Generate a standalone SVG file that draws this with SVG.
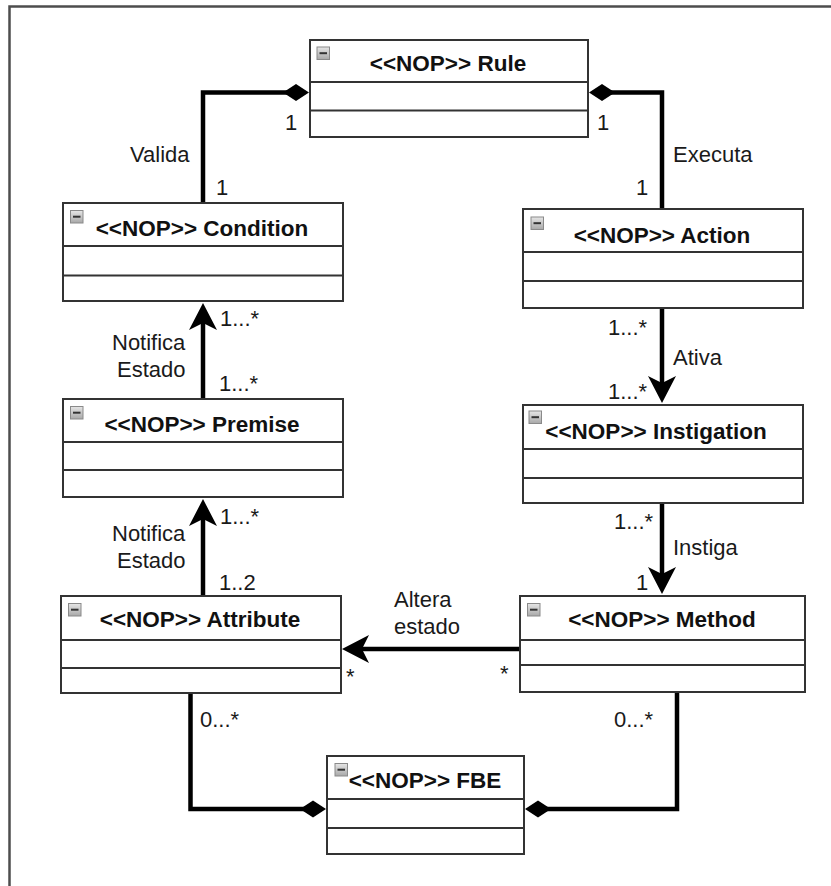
<svg xmlns="http://www.w3.org/2000/svg" width="831" height="886" viewBox="0 0 831 886">
  <style>
    .box { fill: #ffffff; stroke: #333333; stroke-width: 2; }
    .div { stroke: #333333; stroke-width: 2; }
    .title { font-family: "Liberation Sans", Arial, sans-serif; font-weight: bold; font-size: 22.5px; fill: #111111; text-anchor: middle; }
    .lbl { font-family: "Liberation Sans", Arial, sans-serif; font-size: 22px; fill: #1a1a1a; }
    .edge { fill: none; stroke: #000000; stroke-width: 4.5; }
    .comp { marker-end: url(#diamond); }
    .nav { marker-end: url(#arrow); }
    .icon { fill: url(#iconGrad); stroke: #8a8a8a; stroke-width: 1; }
    .dash { stroke: #333333; stroke-width: 2; }
  </style>
  <defs>
    <linearGradient id="iconGrad" x1="0" y1="0" x2="0" y2="1">
      <stop offset="0" stop-color="#e6e6e6"/>
      <stop offset="1" stop-color="#a8a8a8"/>
    </linearGradient>
    <!-- filled diamond for composition ends; tip lies 6px beyond the path end -->
    <marker id="diamond" markerUnits="userSpaceOnUse" viewBox="-28 -10 30 20" markerWidth="30" markerHeight="20" refX="-6" refY="0" orient="auto">
      <path d="M0,0 L-13,-8.5 L-26,0 L-13,8.5 Z" fill="#000000"/>
    </marker>
    <!-- notched filled arrowhead; path end sits at the notch -->
    <marker id="arrow" markerUnits="userSpaceOnUse" viewBox="-30 -16 32 32" markerWidth="32" markerHeight="32" refX="-20" refY="0" orient="auto">
      <path d="M0,0 L-27,-14 L-20,0 L-27,14 Z" fill="#000000"/>
    </marker>
  </defs>

  <rect width="831" height="886" fill="#ffffff"/>
  <!-- outer frame -->
  <path d="M9.5,886 L9.5,6.5 L831,6.5" fill="none" stroke="#4d4d4d" stroke-width="2.5"/>

  <g id="connectors">
    <!-- Rule composed of Condition -->
    <path class="edge comp" d="M203,203 L203,92.5 L303,92.5"/>
    <!-- Rule composed of Action -->
    <path class="edge comp" d="M662,209 L662,92.5 L595,92.5"/>
    <!-- Premise notifies Condition -->
    <path class="edge nav" d="M203,399 L203,323"/>
    <!-- Action activates Instigation -->
    <path class="edge nav" d="M662,308 L662,383"/>
    <!-- Attribute notifies Premise -->
    <path class="edge nav" d="M203,596 L203,519"/>
    <!-- Instigation instigates Method -->
    <path class="edge nav" d="M662,503 L662,574"/>
    <!-- Method changes Attribute -->
    <path class="edge nav" d="M520,649 L362,649"/>
    <!-- FBE composed of Attribute -->
    <path class="edge comp" d="M190.5,693 L190.5,809 L320,809"/>
    <!-- FBE composed of Method -->
    <path class="edge comp" d="M677,692 L677,809 L531,809"/>

    <text class="lbl" x="285" y="130">1</text>
    <text class="lbl" x="216" y="195">1</text>
    <text class="lbl" x="130" y="162">Valida</text>

    <text class="lbl" x="597" y="130">1</text>
    <text class="lbl" x="673" y="162">Executa</text>
    <text class="lbl" x="636" y="195">1</text>

    <text class="lbl" x="220" y="326">1...*</text>
    <text class="lbl" x="112" y="350">Notifica</text>
    <text class="lbl" x="117" y="377">Estado</text>
    <text class="lbl" x="219" y="391">1...*</text>

    <text class="lbl" x="608" y="335">1...*</text>
    <text class="lbl" x="673" y="365">Ativa</text>
    <text class="lbl" x="608" y="399">1...*</text>

    <text class="lbl" x="220" y="524">1...*</text>
    <text class="lbl" x="112" y="541">Notifica</text>
    <text class="lbl" x="117" y="568">Estado</text>
    <text class="lbl" x="219" y="590">1..2</text>

    <text class="lbl" x="614" y="529">1...*</text>
    <text class="lbl" x="673" y="555">Instiga</text>
    <text class="lbl" x="636" y="590">1</text>

    <text class="lbl" x="394" y="607">Altera</text>
    <text class="lbl" x="394" y="634">estado</text>
    <text class="lbl" x="346" y="684">*</text>
    <text class="lbl" x="500" y="681">*</text>

    <text class="lbl" x="200" y="727">0...*</text>
    <text class="lbl" x="614" y="727">0...*</text>
  </g>

  <g id="rule">
    <rect class="box" x="310" y="40" width="278" height="97"/>
    <line class="div" x1="310" y1="82" x2="588" y2="82"/>
    <line class="div" x1="310" y1="110.5" x2="588" y2="110.5"/>
    <rect class="icon" x="317" y="47" width="12.5" height="12.5"/>
    <line class="dash" x1="319.5" y1="53.2" x2="327" y2="53.2"/>
    <text class="title" x="448" y="71">&lt;&lt;NOP&gt;&gt; Rule</text>
  </g>

  <g id="condition">
    <rect class="box" x="63" y="203" width="280" height="98"/>
    <line class="div" x1="63" y1="246" x2="343" y2="246"/>
    <line class="div" x1="63" y1="275.5" x2="343" y2="275.5"/>
    <rect class="icon" x="70.5" y="210.5" width="12.5" height="12.5"/>
    <line class="dash" x1="73" y1="216.7" x2="80.5" y2="216.7"/>
    <text class="title" x="202" y="236">&lt;&lt;NOP&gt;&gt; Condition</text>
  </g>

  <g id="action">
    <rect class="box" x="523" y="209" width="280" height="99"/>
    <line class="div" x1="523" y1="252" x2="803" y2="252"/>
    <line class="div" x1="523" y1="281" x2="803" y2="281"/>
    <rect class="icon" x="531" y="217" width="12.5" height="12.5"/>
    <line class="dash" x1="533.5" y1="223.2" x2="541" y2="223.2"/>
    <text class="title" x="662" y="242.5">&lt;&lt;NOP&gt;&gt; Action</text>
  </g>

  <g id="premise">
    <rect class="box" x="63" y="399" width="280" height="98"/>
    <line class="div" x1="63" y1="442" x2="343" y2="442"/>
    <line class="div" x1="63" y1="470" x2="343" y2="470"/>
    <rect class="icon" x="70.5" y="406.5" width="12.5" height="12.5"/>
    <line class="dash" x1="73" y1="412.7" x2="80.5" y2="412.7"/>
    <text class="title" x="202" y="432">&lt;&lt;NOP&gt;&gt; Premise</text>
  </g>

  <g id="instigation">
    <rect class="box" x="523" y="405" width="280" height="98"/>
    <line class="div" x1="523" y1="449" x2="803" y2="449"/>
    <line class="div" x1="523" y1="478" x2="803" y2="478"/>
    <rect class="icon" x="529" y="411" width="12.5" height="12.5"/>
    <line class="dash" x1="531.5" y1="417.2" x2="539" y2="417.2"/>
    <text class="title" x="656" y="439">&lt;&lt;NOP&gt;&gt; Instigation</text>
  </g>

  <g id="attribute">
    <rect class="box" x="61" y="596" width="280" height="97"/>
    <line class="div" x1="61" y1="640" x2="341" y2="640"/>
    <line class="div" x1="61" y1="668" x2="341" y2="668"/>
    <rect class="icon" x="68.5" y="603.5" width="12.5" height="12.5"/>
    <line class="dash" x1="71" y1="609.7" x2="78.5" y2="609.7"/>
    <text class="title" x="200" y="627">&lt;&lt;NOP&gt;&gt; Attribute</text>
  </g>

  <g id="method">
    <rect class="box" x="520" y="596" width="285" height="96"/>
    <line class="div" x1="520" y1="640" x2="805" y2="640"/>
    <line class="div" x1="520" y1="665" x2="805" y2="665"/>
    <rect class="icon" x="527.5" y="603.5" width="12.5" height="12.5"/>
    <line class="dash" x1="530" y1="609.7" x2="537.5" y2="609.7"/>
    <text class="title" x="662" y="627">&lt;&lt;NOP&gt;&gt; Method</text>
  </g>

  <g id="fbe">
    <rect class="box" x="327" y="756" width="197" height="98"/>
    <line class="div" x1="327" y1="799" x2="524" y2="799"/>
    <line class="div" x1="327" y1="828" x2="524" y2="828"/>
    <rect class="icon" x="335" y="763.5" width="12.5" height="12.5"/>
    <line class="dash" x1="337.5" y1="769.7" x2="345" y2="769.7"/>
    <text class="title" x="425" y="787.5">&lt;&lt;NOP&gt;&gt; FBE</text>
  </g>
</svg>
